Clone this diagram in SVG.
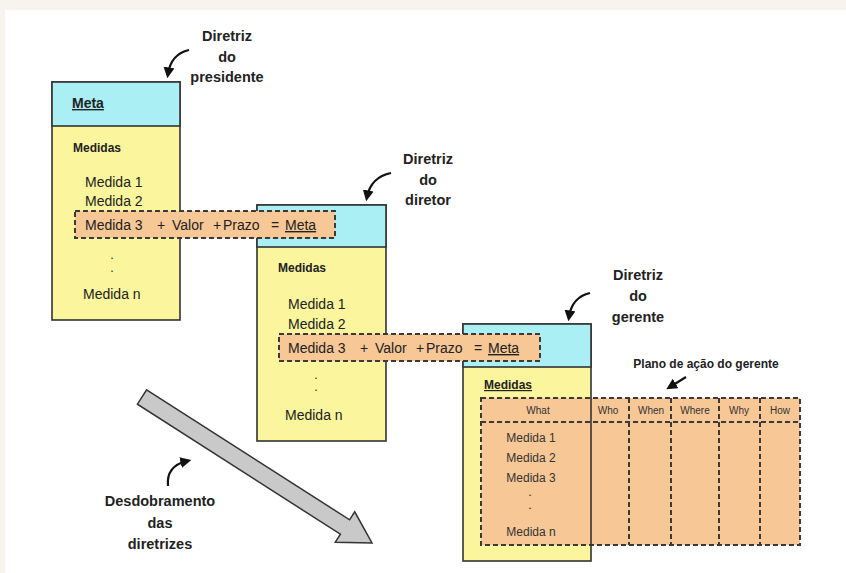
<svg xmlns="http://www.w3.org/2000/svg" width="846" height="573" viewBox="0 0 846 573">
<defs>
<style>
.bg{fill:#ffffff}
.frame{fill:#f7f4ee}
.hdr{fill:#a9eff4;stroke:#333;stroke-width:1.6}
.body{fill:#fbf69d;stroke:#333;stroke-width:1.6}
.dash{fill:#f8c796;stroke:#3a3a3a;stroke-width:2;stroke-dasharray:5 3}
.dline{fill:none;stroke:#3a3a3a;stroke-width:2;stroke-dasharray:5 3}
.lbl{font-family:"Liberation Sans",Arial,sans-serif;font-weight:bold;font-size:14.5px;fill:#222;text-anchor:middle}
.ttl{font-family:"Liberation Sans",Arial,sans-serif;font-weight:bold;font-size:14px;fill:#222;text-decoration:underline}
.sub{font-family:"Liberation Sans",Arial,sans-serif;font-weight:bold;font-size:12px;fill:#222}
.m{font-family:"Liberation Sans",Arial,sans-serif;font-size:14px;fill:#222}
.t{font-family:"Liberation Sans",Arial,sans-serif;font-size:12px;fill:#333;text-anchor:middle}
.th{font-family:"Liberation Sans",Arial,sans-serif;font-size:10px;fill:#333;text-anchor:middle}
.dot{font-family:"Liberation Sans",Arial,sans-serif;font-size:9px;font-weight:bold;fill:#333;text-anchor:middle}
.curve{fill:none;stroke:#111;stroke-width:2.2;marker-end:url(#ah)}
.big{fill:#c9c9c9;stroke:#333;stroke-width:1.5;stroke-linejoin:miter}
</style>
<marker id="ah" viewBox="0 0 10 10" refX="6" refY="5" markerWidth="5" markerHeight="5" orient="auto" markerUnits="strokeWidth">
<path d="M0,0 L10,5 L0,10 Z" fill="#111"/>
</marker>
</defs>
<rect class="bg" x="0" y="0" width="846" height="573"/>
<rect class="frame" x="0" y="0" width="846" height="10"/>
<rect class="frame" x="0" y="0" width="5" height="573"/>

<g id="box-presidente">
<rect class="body" x="52" y="82" width="128" height="238"/>
<rect class="hdr" x="52" y="82" width="128" height="44"/>
<text class="ttl" x="72" y="108">Meta</text>
<text class="sub" x="73" y="152">Medidas</text>
<text class="m" x="85" y="187">Medida 1</text>
<text class="m" x="85" y="206">Medida 2</text>
<text class="dot" x="112" y="259">.</text>
<text class="dot" x="112" y="272">.</text>
<text class="m" x="83" y="299">Medida n</text>
</g>

<g id="box-diretor">
<rect class="body" x="257" y="205" width="129" height="236"/>
<rect class="hdr" x="257" y="205" width="129" height="42"/>
<text class="sub" x="278" y="272">Medidas</text>
<text class="m" x="288" y="309">Medida 1</text>
<text class="m" x="288" y="329">Medida 2</text>
<text class="dot" x="316" y="379">.</text>
<text class="dot" x="316" y="391">.</text>
<text class="m" x="285" y="420">Medida n</text>
</g>

<g id="box-gerente">
<rect class="body" x="463" y="324" width="128" height="237"/>
<rect class="hdr" x="463" y="324" width="128" height="43"/>
<text class="sub" x="484" y="389" text-decoration="underline">Medidas</text>
</g>

<g id="plano-acao">
<rect class="dash" x="481" y="398" width="319" height="147"/>
<line x1="591" y1="398" x2="591" y2="545" stroke="#333" stroke-width="1.6"/>
<line class="dline" x1="481" y1="422" x2="800" y2="422"/>
<line class="dline" x1="629" y1="398" x2="629" y2="545"/>
<line class="dline" x1="671" y1="398" x2="671" y2="545"/>
<line class="dline" x1="719" y1="398" x2="719" y2="545"/>
<line class="dline" x1="760" y1="398" x2="760" y2="545"/>
<text class="th" x="538" y="414">What</text>
<text class="th" x="608" y="414">Who</text>
<text class="th" x="651" y="414">When</text>
<text class="th" x="695" y="414">Where</text>
<text class="th" x="739" y="414">Why</text>
<text class="th" x="780" y="414">How</text>
<text class="t" x="531" y="442">Medida 1</text>
<text class="t" x="531" y="462">Medida 2</text>
<text class="t" x="531" y="482">Medida 3</text>
<text class="dot" x="530" y="496">.</text>
<text class="dot" x="530" y="509">.</text>
<text class="t" x="531" y="536">Medida n</text>
<text class="sub" x="706" y="368" text-anchor="middle">Plano de ação do gerente</text>
</g>

<g id="meta-presidente">
<rect class="dash" x="75" y="211" width="260" height="27"/>
<text class="m" y="230"><tspan x="85">Medida 3</tspan><tspan x="157">+</tspan><tspan x="172">Valor</tspan><tspan x="213">+</tspan><tspan x="223">Prazo</tspan><tspan x="271">=</tspan><tspan x="285" text-decoration="underline">Meta</tspan></text>
</g>

<g id="meta-diretor">
<rect class="dash" x="279" y="334" width="261" height="27"/>
<text class="m" y="353"><tspan x="288">Medida 3</tspan><tspan x="360">+</tspan><tspan x="375">Valor</tspan><tspan x="416">+</tspan><tspan x="426">Prazo</tspan><tspan x="474">=</tspan><tspan x="488" text-decoration="underline">Meta</tspan></text>
</g>

<g id="label-presidente">
<text class="lbl" x="227" y="41">Diretriz</text>
<text class="lbl" x="227" y="62">do</text>
<text class="lbl" x="227" y="82">presidente</text>
</g>
<g id="label-diretor">
<text class="lbl" x="428" y="164">Diretriz</text>
<text class="lbl" x="428" y="185">do</text>
<text class="lbl" x="428" y="205">diretor</text>
</g>
<g id="label-gerente">
<text class="lbl" x="638" y="280">Diretriz</text>
<text class="lbl" x="638" y="301">do</text>
<text class="lbl" x="638" y="322">gerente</text>
</g>
<g id="label-desdobramento">
<text class="lbl" x="160" y="506">Desdobramento</text>
<text class="lbl" x="160" y="528">das</text>
<text class="lbl" x="160" y="549">diretrizes</text>
</g>

<g id="connectors">
<path class="curve" d="M189,50 Q171,54 168,74"/>
<path class="curve" d="M391,173 Q371,177 367,197"/>
<path class="curve" d="M590,293 Q572,297 569,317"/>
<path class="curve" d="M168,486 Q166,466 187,461"/>
<path class="curve" d="M686,377 L670,387"/>
<polygon class="big" points="146.6,389.8 349.6,519.8 354.7,511.8 372,543 335.3,542.2 340.4,534.2 137.4,404.2"/>
</g>
</svg>
